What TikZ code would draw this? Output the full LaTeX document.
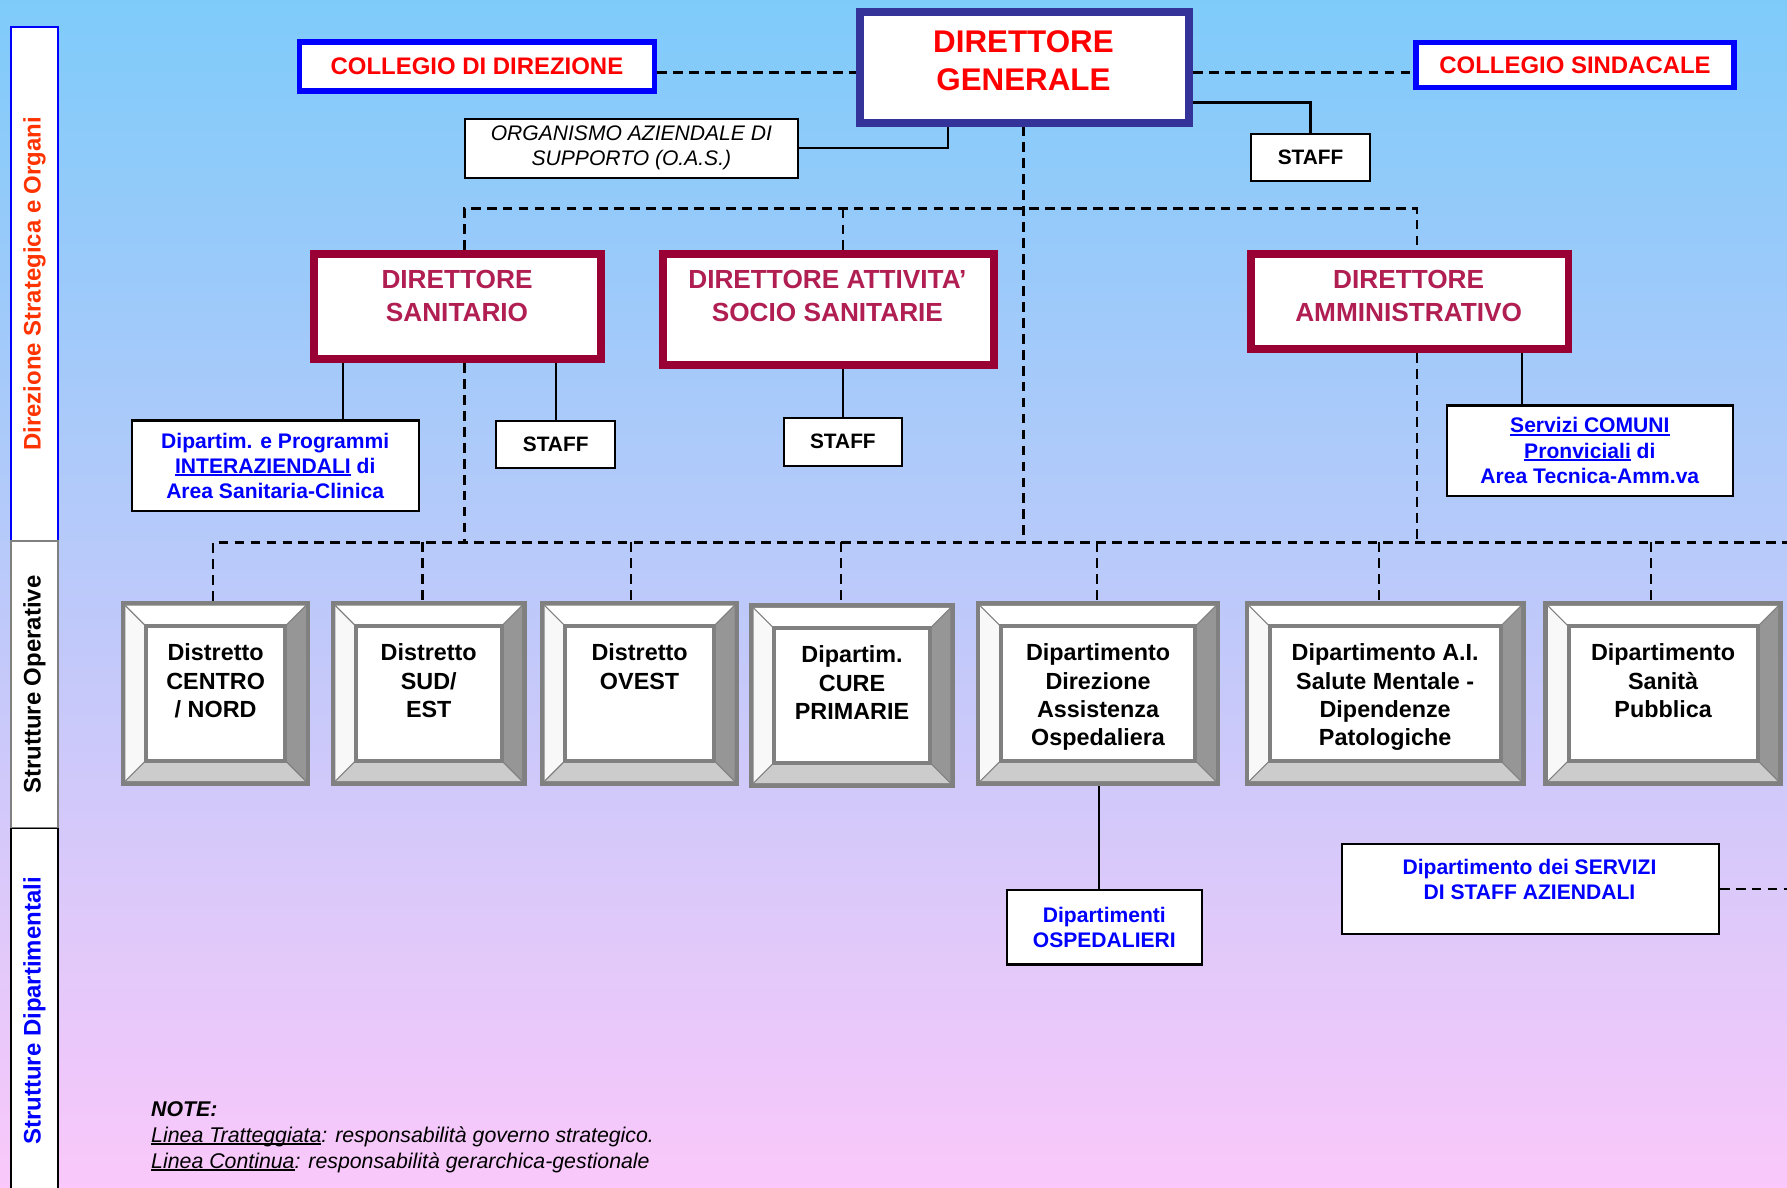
\documentclass[tikz,border=0pt]{standalone}
\usepackage{fontspec}
\setmainfont{Liberation Sans}
\usetikzlibrary{fit}
\pgfdeclarelayer{bg}
\pgfsetlayers{bg,main}
\definecolor{bgtop}{RGB}{126,203,250}
\definecolor{bgbot}{RGB}{250,200,250}
\definecolor{dgblue}{RGB}{51,51,153}
\definecolor{dirred}{RGB}{153,0,51}
\definecolor{dirtxt}{RGB}{176,30,82}
\definecolor{colblue}{RGB}{0,0,255}
\definecolor{txtred}{RGB}{255,0,0}
\definecolor{sideorange}{RGB}{255,51,0}
\definecolor{bevframe}{RGB}{128,128,128}
\definecolor{bevdark}{RGB}{150,150,150}
\definecolor{bevlight}{RGB}{204,204,204}
\definecolor{bevwhite}{RGB}{248,248,248}
\newcommand\setfs[2]{\fontsize{#1pt}{#2pt}\selectfont}
\newsavebox\ulbox
\newcommand\ulin[1]{\sbox\ulbox{#1}\rlap{\rule[-2.6pt]{\wd\ulbox}{1.6pt}}\usebox\ulbox}
\tikzset{
 every node/.style={inner sep=0pt},
 dgbox/.style={draw=dgblue, line width=7pt, fill=white},
 colbox/.style={draw=colblue, line width=4.5pt, fill=white, text=txtred, font=\setfs{21}{25}\bfseries},
 dirbox/.style={draw=dirred, line width=7pt, fill=white},
 wbox/.style={draw=black, line width=1.8pt, fill=white, align=center},
 staffbox/.style={wbox, font=\setfs{18.3}{22}\bfseries},
 bluebox/.style={wbox, text=colblue, font=\setfs{18.5}{22}\bfseries},
 bluetext/.style={text=colblue, font=\setfs{18.5}{22}\bfseries, align=center, anchor=north},
 oasbox/.style={wbox, font=\setfs{18.5}{22}\itshape},
 dgtext/.style={text=txtred, font=\setfs{27.5}{33.4}\bfseries, align=center, anchor=north},
 dirtext/.style={text=dirtxt, font=\setfs{23}{29}\bfseries, align=center, anchor=north},
 bevtext/.style={font=\setfs{20.5}{25}\bfseries, align=center, anchor=north},
 sidebox/.style={rotate=90, minimum height=41.5pt, fill=white, font=\setfs{21}{24}\bfseries},
 dl/.style={line width=2pt, dash pattern=on 8.5pt off 5.5pt},
 sl/.style={line width=2pt},
}
% beveled button: name, x1, y1, x2, y2
\newcommand\bevbox[5]{%
 \fill[bevframe] (#2,#3) rectangle (#4,#5);
 \fill[white] (#2+4,#3+4) -- (#4-4,#3+4) -- (#4-22,#3+22) -- (#2+22,#3+22) -- cycle;
 \fill[bevwhite] (#2+4,#3+4) -- (#2+22,#3+22) -- (#2+22,#5-22) -- (#2+4,#5-4) -- cycle;
 \fill[bevdark] (#4-4,#3+4) -- (#4-4,#5-4) -- (#4-22,#5-22) -- (#4-22,#3+22) -- cycle;
 \fill[bevlight] (#2+4,#5-4) -- (#4-4,#5-4) -- (#4-22,#5-22) -- (#2+22,#5-22) -- cycle;
 \draw[bevframe, line width=1pt] (#2+4,#3+4) -- (#2+22,#3+22) (#4-4,#3+4) -- (#4-22,#3+22)
   (#4-4,#5-4) -- (#4-22,#5-22) (#2+4,#5-4) -- (#2+22,#5-22);
 \draw[bevframe, line width=3.5pt, fill=white] (#2+22,#3+22) rectangle (#4-22,#5-22);
 \node[fit={(#2,#3) (#4,#5)}] (#1) {};
}
\begin{document}
\begin{tikzpicture}[x=1pt,y=-1pt]
\useasboundingbox (0,0) rectangle (1568,1042);
\begin{pgfonlayer}{bg}
\shade[top color=bgtop, bottom color=bgbot] (0,0) rectangle (1568,1042);
\end{pgfonlayer}

% side bar
\node[sidebox, draw=colblue, line width=1.5pt, minimum width=451pt, text=sideorange] (s1) at (30.3,249) {Direzione Strategica e Organi};
\node[sidebox, draw=bevframe, line width=2pt, minimum width=252.5pt, text=black] (s2) at (30.3,600.75) {Strutture Operative};
\node[sidebox, draw=black, line width=1.5pt, minimum width=320pt, text=colblue] (s3) at (30.3,887) {Strutture Dipartimentali};

% top level
\node[dgbox, minimum width=289pt, minimum height=97pt] (dg) at (899,59) {};
\node[dgtext] (dgt) at (898,27) {DIRETTORE\\GENERALE};
\node[colbox, minimum width=312pt, minimum height=43pt] (cdir) at (418.5,58.3) {COLLEGIO DI DIREZIONE};
\node[colbox, minimum width=279pt, minimum height=40pt] (csin) at (1382,57) {COLLEGIO SINDACALE};
\node[oasbox, minimum width=292pt, minimum height=52pt] (oas) at (554,130) {ORGANISMO AZIENDALE DI\\SUPPORTO (O.A.S.)};
\node[staffbox, minimum width=104pt, minimum height=41pt] (stdg) at (1150,138) {STAFF};

% directors
\node[dirbox, minimum width=252pt, minimum height=92.3pt] (ds) at (401.5,269) {};
\node[dirtext] (dst) at (401,237) {DIRETTORE\\SANITARIO};
\node[dirbox, minimum width=290.7pt, minimum height=97pt] (dass) at (727,271.4) {};
\node[dirtext] (dasst) at (726,237) {DIRETTORE ATTIVITA’\\SOCIO SANITARIE};
\node[dirbox, minimum width=278.5pt, minimum height=83.6pt] (da) at (1237,264.7) {};
\node[dirtext] (dat) at (1236,237) {DIRETTORE\\AMMINISTRATIVO};

% second level
\node[bluebox, minimum width=251.5pt, minimum height=79.3pt] (dint) at (241.5,408.6) {Dipartim. e Programmi\\\ulin{INTERAZIENDALI} di\\Area Sanitaria-Clinica};
\node[staffbox, minimum width=104.4pt, minimum height=41.8pt] (stds) at (487.6,390) {STAFF};
\node[staffbox, minimum width=104pt, minimum height=42pt] (stdass) at (739.6,387.5) {STAFF};
\node[bluebox, minimum width=251pt, minimum height=79pt] (serv) at (1395,395.3) {\ulin{Servizi COMUNI}\\\ulin{Pronviciali} di\\Area Tecnica-Amm.va};

% operative structures
\bevbox{b1}{105.9}{527.3}{272.4}{689.4}
\bevbox{b2}{290.2}{527.3}{462.1}{689.4}
\bevbox{b3}{473.9}{527.3}{648.5}{689.4}
\bevbox{b4}{657.2}{529.4}{838}{691.1}
\bevbox{b5}{856.1}{527.6}{1070.8}{689.4}
\bevbox{b6}{1092.1}{527.6}{1338.6}{689.4}
\bevbox{b7}{1354.3}{527.6}{1564.3}{689.4}
\node[bevtext] (b1t) at (189.2,564.5) {Distretto\\CENTRO\\/ NORD};
\node[bevtext] (b2t) at (376.2,564.5) {Distretto\\SUD/\\EST};
\node[bevtext] (b3t) at (561.2,564.5) {Distretto\\OVEST};
\node[bevtext] (b4t) at (747.6,566.5) {Dipartim.\\CURE\\PRIMARIE};
\node[bevtext] (b5t) at (963.5,564.5) {Dipartimento\\Direzione\\Assistenza\\Ospedaliera};
\node[bevtext] (b6t) at (1215.4,564.5) {Dipartimento A.I.\\Salute Mentale -\\Dipendenze\\Patologiche};
\node[bevtext] (b7t) at (1459.3,564.5) {Dipartimento\\Sanità\\Pubblica};

% departmental structures
\node[bluebox, minimum width=171.6pt, minimum height=65.8pt] (osp) at (969,813.4) {Dipartimenti\\OSPEDALIERI};
\node[wbox, minimum width=331pt, minimum height=79pt] (sst) at (1342.7,780) {};
\node[bluetext] (sstt) at (1342,753.7) {Dipartimento dei SERVIZI\\DI STAFF AZIENDALI};

% note
\node[anchor=north west, align=left, font=\setfs{18.7}{22.7}\itshape] (note) at (132.5,966.3)
 {\textbf{NOTE:}\\\ulin{Linea Tratteggiata}: responsabilità governo strategico.\\\ulin{Linea Continua}: responsabilità gerarchica-gestionale};

% connectors
\coordinate (ly) at (0,63.5);
\coordinate (dgr) at (0,90);
\coordinate (oasj) at (832,0);
\coordinate (tb) at (0,183);
\coordinate (tbl) at (407.5,183);
\coordinate (tbm) at (739.6,183);
\coordinate (tbr) at (1243.3,183);
\coordinate (dgx) at (898,0);
\coordinate (dsx) at (301,0);
\coordinate (dax) at (1335.5,0);
\coordinate (ospx) at (964.3,0);
\coordinate (bb) at (0,476);
\coordinate (d1) at (187,476);
\coordinate (d2) at (370.7,476);
\coordinate (d3) at (553.4,476);
\coordinate (d4) at (737.7,476);
\coordinate (d5) at (962.7,476);
\coordinate (d6) at (1209.7,476);
\coordinate (d7) at (1448.7,476);
\coordinate (bbend) at (1572,476);
\coordinate (rend) at (1572,0);

\begin{pgfonlayer}{bg}
\draw[dl] (cdir.east |- ly) -- (dg.west |- ly);
\draw[dl] (dg.east |- ly) -- (csin.west |- ly);
\draw[sl] (oas.east) -| (oasj |- dg.south);
\draw[sl] (dg.east |- dgr) -| (stdg.north);
\draw[dl] (tbl |- ds.north) -- (tbl) -- (tbr) -- (tbr |- da.north);
\draw[dl] (tbm) -- (tbm |- dass.north);
\draw[dl] (dgx |- dg.south) -- (dgx |- bb);
\draw[sl] (dsx |- ds.south) -- (dsx |- dint.north);
\draw[sl] (stds.north |- ds.south) -- (stds.north);
\draw[dl] (tbl |- ds.south) -- (tbl |- bb);
\draw[sl] (stdass.north |- dass.south) -- (stdass.north);
\draw[dl] (tbr |- da.south) -- (tbr |- bb);
\draw[sl] (dax |- da.south) -- (dax |- serv.north);
\draw[dl] (d1 |- b1.north) -- (d1) -- (bbend);
\draw[dl] (d2) -- (d2 |- b2.north);
\draw[dl] (d3) -- (d3 |- b3.north);
\draw[dl] (d4) -- (d4 |- b4.north);
\draw[dl] (d5) -- (d5 |- b5.north);
\draw[dl] (d6) -- (d6 |- b6.north);
\draw[dl] (d7) -- (d7 |- b7.north);
\draw[sl] (ospx |- b5.south) -- (ospx |- osp.north);
\draw[dl] (sst.east) -- (sst.east -| rend);
\end{pgfonlayer}
\end{tikzpicture}
\end{document}
